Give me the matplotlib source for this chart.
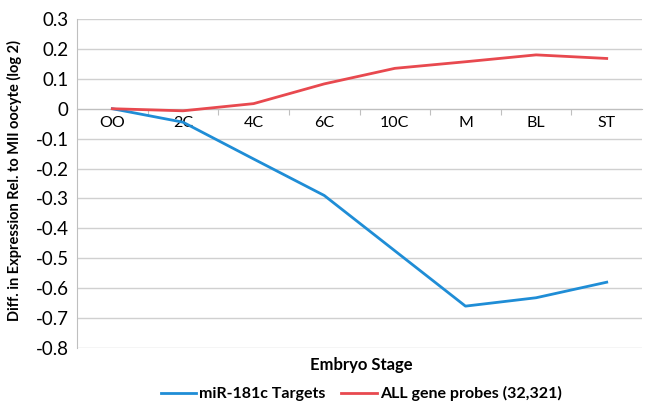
import matplotlib.pyplot as plt

stages = ["OO", "2C", "4C", "6C", "10C", "M", "BL", "ST"]
mir181c = [0.0, -0.045, -0.168, -0.29, -0.475, -0.66, -0.632, -0.58]
all_probes = [0.0, -0.007, 0.017, 0.083, 0.135, 0.157, 0.18, 0.168]
yticks = [0.3, 0.2, 0.1, 0, -0.1, -0.2, -0.3, -0.4, -0.5, -0.6, -0.7, -0.8]

plt.rcParams['font.family'] = ['Lato', 'DejaVu Sans']

fig = plt.figure(figsize=(6.45, 4.04), dpi=100)
ax = fig.add_axes([0.1194, 0.1386, 0.876, 0.8144])

x = list(range(len(stages)))
ax.plot(x, mir181c, color="#1f8dd6", lw=2.0, label="miR-181c Targets", zorder=3)
ax.plot(x, all_probes, color="#e8494f", lw=2.0, label="ALL gene probes (32,321)", zorder=3)

ax.set_xlim(-0.5, len(stages) - 0.5)
ax.set_ylim(-0.8, 0.3)
ax.set_yticks(yticks)
ax.set_yticklabels([("%g" % v) for v in yticks], fontsize=13.5)
ax.yaxis.grid(True, color="#d0d0d0", lw=1.0)
ax.set_axisbelow(True)
ax.tick_params(axis="y", length=0, pad=6)

# category axis crosses at zero
ax.spines["bottom"].set_position(("data", 0))
ax.spines["bottom"].set_color("#bfbfbf")
ax.spines["left"].set_color("#bfbfbf")
ax.spines["top"].set_visible(False)
ax.spines["right"].set_visible(False)
ax.set_xticks([i + 0.5 for i in x[:-1]])
ax.set_xticklabels([])
ax.tick_params(axis="x", which="major", length=4, color="#bfbfbf", direction="out")
ax.set_xticks(x, minor=True)
ax.set_xticklabels(stages, minor=True, fontsize=11.5)
ax.tick_params(axis="x", which="minor", length=0, pad=5)

fig.text(0.022, 0.552, "Diff. in Expression Rel. to MII oocyte (log 2)", rotation=90,
         ha="center", va="center", fontsize=10.5, fontweight="bold")
fig.text(0.56, 0.096, "Embryo Stage", ha="center", va="center",
         fontsize=12, fontweight="bold")
fig.legend(loc="center", bbox_to_anchor=(0.56, 0.025), ncol=2, frameon=False,
           prop={"size": 11.5, "weight": "bold"}, handlelength=2.2,
           handletextpad=0.2, columnspacing=1.0)

fig.savefig("out.png", dpi=100)
